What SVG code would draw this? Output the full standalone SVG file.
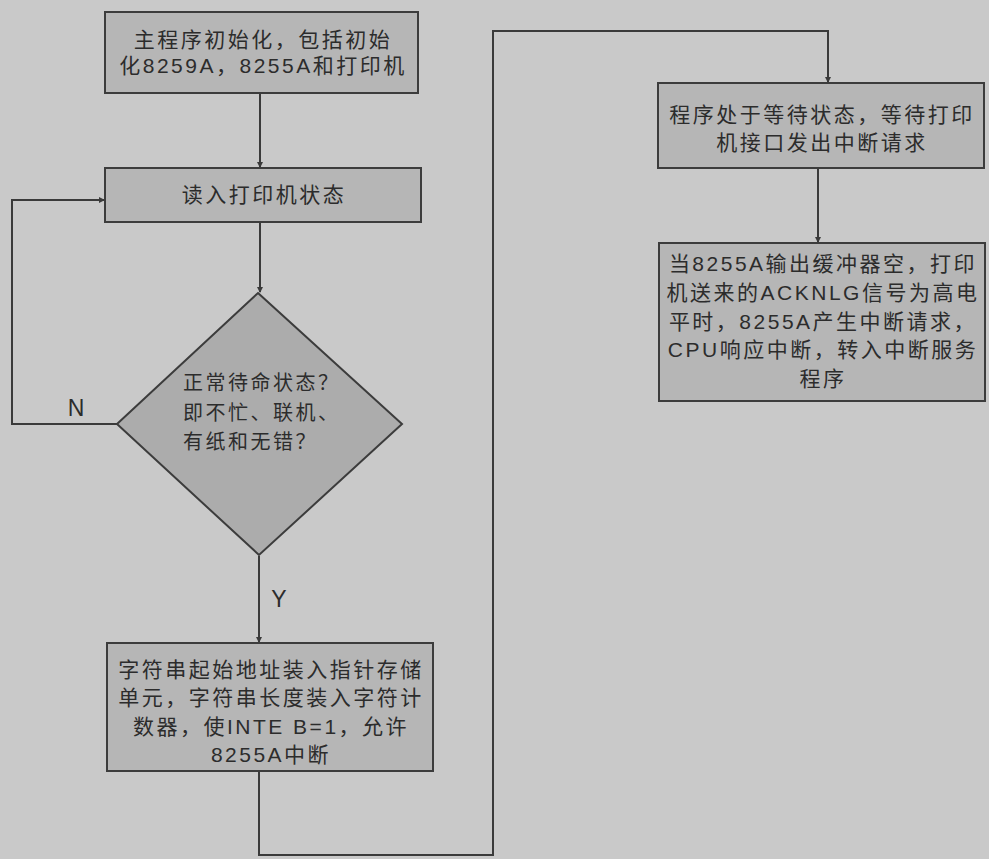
<svg xmlns="http://www.w3.org/2000/svg" width="989" height="859" viewBox="0 0 989 859">
  <style>
    .box { fill: #b6b6b6; stroke: #3c3c3c; stroke-width: 2; }
    .dia { fill: #acacac; stroke: #3c3c3c; stroke-width: 2; }
    .t { font-family: "Liberation Sans", "Noto Sans CJK SC", sans-serif; font-size: 21px; fill: #2c2c2c; letter-spacing: 2.5px; text-anchor: middle; }
    .tl { font-family: "Liberation Sans", "Noto Sans CJK SC", sans-serif; font-size: 20px; fill: #2c2c2c; letter-spacing: 2.5px; }
    .lab { font-family: "Liberation Sans", Arial, sans-serif; font-size: 23px; fill: #2c2c2c; }
    .c { fill: none; stroke: #3a3a3a; stroke-width: 2; }
  </style>
  <defs>
    <marker id="ah" markerWidth="6" markerHeight="6" refX="5" refY="3" orient="auto" markerUnits="userSpaceOnUse">
      <path d="M0,0 L6,3 L0,6 Z" fill="#3a3a3a"/>
    </marker>
  </defs>
  <rect x="0" y="0" width="989" height="859" fill="#c9c9c9"/>

  <g id="connectors">
    <path class="c" d="M260,93 V167" marker-end="url(#ah)"/>
    <path class="c" d="M260,222 V292" marker-end="url(#ah)"/>
    <path class="c" d="M259,556 V642" marker-end="url(#ah)"/>
    <path class="c" d="M117,424 H12 V200 H104" marker-end="url(#ah)"/>
    <path class="c" d="M259,771 V855 H493 V31 H828 V82" marker-end="url(#ah)"/>
    <path class="c" d="M818,168 V242" marker-end="url(#ah)"/>
    <text class="lab" x="76" y="416" text-anchor="middle">N</text>
    <text class="lab" x="279" y="607" text-anchor="middle">Y</text>
  </g>

  <g id="init">
    <rect class="box" x="105" y="12" width="313" height="81"/>
    <text class="t" x="263" y="47">主程序初始化，包括初始</text>
    <text class="t" x="263" y="73">化8259A，8255A和打印机</text>
  </g>

  <g id="read">
    <rect class="box" x="105" y="168" width="316" height="54"/>
    <text class="t" x="264" y="202">读入打印机状态</text>
  </g>

  <g id="check">
    <polygon class="dia" points="258,293 402,424 259,555 117,424"/>
    <text class="tl" x="183" y="390">正常待命状态？</text>
    <text class="tl" x="183" y="420">即不忙、联机、</text>
    <text class="tl" x="183" y="449">有纸和无错？</text>
  </g>

  <g id="setup">
    <rect class="box" x="107" y="643" width="326" height="128"/>
    <text class="t" x="271" y="677">字符串起始地址装入指针存储</text>
    <text class="t" x="271" y="705">单元，字符串长度装入字符计</text>
    <text class="t" x="271" y="734">数器，使INTE B=1，允许</text>
    <text class="t" x="271" y="762">8255A中断</text>
  </g>

  <g id="wait">
    <rect class="box" x="658" y="83" width="326" height="85"/>
    <text class="t" x="822" y="122">程序处于等待状态，等待打印</text>
    <text class="t" x="822" y="150">机接口发出中断请求</text>
  </g>

  <g id="interrupt">
    <rect class="box" x="659" y="243" width="326" height="158"/>
    <text class="t" x="823" y="271">当8255A输出缓冲器空，打印</text>
    <text class="t" x="823" y="300">机送来的ACKNLG信号为高电</text>
    <text class="t" x="823" y="329">平时，8255A产生中断请求，</text>
    <text class="t" x="823" y="357">CPU响应中断，转入中断服务</text>
    <text class="t" x="823" y="386">程序</text>
  </g>
</svg>
